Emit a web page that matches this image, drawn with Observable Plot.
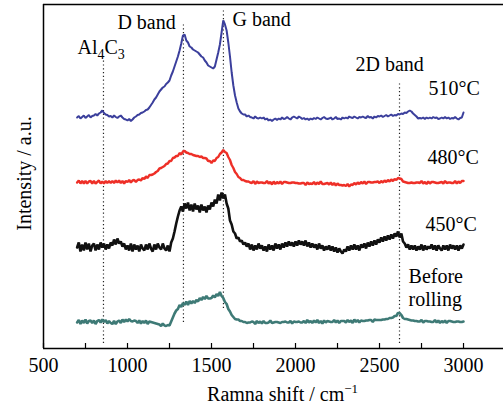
<!DOCTYPE html>
<html><head><meta charset="utf-8">
<script src="https://cdn.jsdelivr.net/npm/d3@7"></script>
<script src="https://cdn.jsdelivr.net/npm/@observablehq/plot@0.6"></script>
<style>body{margin:0;background:#fff}</style>
</head><body><div id="chart"></div>
<script>
// Raman shift sampling (cm^-1)
const shiftStart = 700;
const shiftStep = 10;

const seriesNames = ["510°C", "480°C", "450°C", "Before rolling"];
// vertical offsets of the stacked spectra (a.u.)
const offsets = [231, 166, 101, 26];

const intensity510 = [
  0, 1.5, -1, 0.5, 2, -0.5, 1, 2.5, 0, 1.5,
  2, 3.5, 2, 4, 5, 7, 4.5, 3, 2.5, 1,
  1.5, 0, 2, 0.5, -0.5, 1, 2, 0, -1.5, -2,
  -3, -1.5, -3.5, -2, 0, 1, 2.5, 3, 4.5, 5,
  6, 7.5, 8, 10, 12.5, 15, 18, 20, 23, 26,
  28, 30, 31, 33.5, 35, 37, 42, 46, 51, 56,
  61, 67, 74, 82, 83, 77, 75, 71, 70, 68,
  67, 66, 65, 63, 61, 60, 57, 55, 52, 51,
  50, 49, 51, 58, 65, 73, 85, 97, 93, 87,
  75, 61, 45, 32, 22, 15, 9, 6, 4, 3,
  3, 1, 2, 0.5, 0, -1, 1, -0.5, -1, 0,
  -1, 0, -2, -1, -3, -2, -3.5, -2, -1, -2.5,
  -1, -2, 0, -1.5, -1, 0.5, -1, -2, 0, 1,
  0, -1, 1, 0, -1.5, -0.5, -2, -1, -2.5, -1,
  -2, -0.5, -1.5, 0, -1, -2, -0.5, 0.5, -1, -1.5,
  -1, 0, -2, -1, 0.5, -1.5, -1, -2, 0, -1,
  0, -1, 1, 0, -0.5, 1, 0, -1, 0.5, 0,
  1, 0, -0.5, 1.5, 0, 0.5, -1, 1, 0, 1.5,
  1, 2, 0.5, 1.5, 2.5, 1, 2, 3, 1.5, 2.5,
  2, 3.5, 3, 4, 3.5, 5, 4.5, 6, 7, 6,
  4, 2.5, 1, -1, -0.5, -1, 0, -1.5, 0, -1,
  0, -1, 0.5, -0.5, 0, -1.5, -1, 0, -1, 0.5,
  -1, 0, -1.5, -0.5, -1, 0.5, -1, -2, -0.5, 0,
  5
];

const intensity480 = [
  0, 2, -1, 1.5, -1, 1.5, -1, 1, 1.5, -1,
  1.5, -1, 0.5, 2, -1, 1, -1, 1.5, -0.5, 1.5,
  -0.5, 1.5, -0.5, 2, 0, 2, -0.5, 1.5, -1, 1.5,
  0.5, 2.5, 0, 2, 2.5, 0.5, 2.5, 3, 2, 4.5,
  3.5, 6, 4.5, 7.5, 7.5, 8, 9, 10.5, 11.5, 14,
  14.5, 15.5, 16.5, 18.5, 19, 21.5, 21.5, 24.5, 25, 26.5,
  26.5, 29.5, 28, 31, 31.5, 30, 29.5, 28.5, 28.5, 27.5,
  27, 26.5, 26.5, 25.5, 26, 24.5, 24.5, 24, 21.5, 21.5,
  19.5, 22, 21.5, 24.5, 25.5, 28.5, 30, 32.5, 30.5, 29.5,
  25.5, 22.5, 17.5, 14.5, 10.5, 8.5, 5.5, 4.5, 2.5, 2.5,
  1.5, 1, 1, 0, -0.5, 1.5, -1.5, 1, -0.5, 0,
  0, -0.5, -0.5, 1.5, -1, 0.5, -2, 1, -1.5, 0.5,
  -1, 1, -1.5, 0.5, 0.5, 0, -0.5, -0.5, 0, 0,
  -0.5, -0.5, -1, -1, -0.5, -0.5, -2.5, 0, -1.5, -1,
  -1.5, 0.5, -2, 0, -1.5, 1, -1.5, -1.5, -1, -0.5,
  -2, 0, -2.5, -0.5, -3, -1, -2.5, -2.5, -3, -2.5,
  -3.5, -1.5, -4, -2, -2.5, -0.5, -2, 0, -1.5, 0.5,
  -1, 1, -1.5, 0.5, 0.5, 0, 0, 0.5, 0.5, 1,
  -0.5, 1.5, 0, 2, 0.5, 2.5, 1, 3, 1.5, 3.5,
  2.5, 4.5, 4, 3.5, 1, 0.5, 0, -0.5, -0.5, 0,
  -0.5, -0.5, 0, 0, -0.5, 1.5, -1, 0.5, -1.5, 1,
  -1, 0.5, 0.5, 0, -0.5, -0.5, 0, 0.5, -1, 1.5,
  -0.5, 0, 0, -0.5, -0.5, 1.5, -1, 1, -0.5, 1.5,
  1.5
];

const intensity450 = [
  0, 5, -4, 3, -3, 5, -2, 4, -4, 2,
  4, -3, 3, -2, 5, 0, 4, -2, 3, -1,
  5, 2, 8, 3, 9, 4, 6, 1, 4, -2,
  2, -3, 4, -4, 3, -2, 2, -4, 3, -1,
  -3, 3, -2, 4, -1, -4, 3, -2, 4, 0,
  -2, 4, -1, -3, 2, -4, 5, 9, 16, 24,
  31, 37, 41, 36, 44, 39, 45, 37, 43, 36,
  44, 38, 42, 35, 43, 37, 41, 35, 42, 38,
  45, 41, 48, 44, 53, 47, 55, 49, 53, 44,
  39, 27, 23, 16, 14, 9, 10, 6, 7, 3,
  5, 1, 4, -2, 3, -3, 2, -2, 4, -1,
  2, -3, 1, -4, 3, -2, 2, -3, 4, -1,
  3, -2, 4, 0, 5, 1, 6, 2, 5, 1,
  6, 2, 7, 3, 6, 2, 7, 1, 5, 0,
  4, 0, 3, -2, 4, -1, 2, -3, 1, -2,
  2, -3, 1, -4, 0, -5, -1, -4, -6, -2,
  -4, 1, -3, 2, -2, 3, -2, 2, -3, 3,
  0, 4, -1, 5, 1, 6, 2, 7, 3, 8,
  5, 10, 6, 11, 7, 12, 8, 13, 9, 14,
  11, 16, 10, 14, 6, 4, 0, 3, -2, 2,
  -2, 2, -3, 1, -2, 3, -3, 2, -2, 1,
  -1, 3, -2, 2, -3, 2, -1, -3, 2, -2,
  2, -3, 3, -1, 2, -2, 2, -3, 2, -1,
  3
];

const intensityBefore = [
  0, 2.5, -1.5, 2, -0.5, 3, -1, 1.5, 2, -0.5,
  2, -1.5, 1.5, 2.5, 0, 3, 0.5, 2.5, -1, 1.5,
  -0.5, -1.5, 1.5, -1.5, 1, 2, -0.5, 3, 0.5, 3,
  1, 3.5, 1.5, 1, 2, 1.5, -0.5, 2, -1, 1.5,
  -0.5, 2, -1.5, 1, 0.5, 0, -0.5, -1, -1.5, -2,
  -3.5, -1, -3, -3.5, -2.5, -3, 1, 5, 9, 12,
  13.5, 17.5, 15.5, 19.5, 17.5, 21, 17.5, 21.5, 19, 21.5,
  19.5, 22.5, 21, 24.5, 22.5, 25.5, 23.5, 26.5, 24, 24,
  24.5, 27, 25, 28.5, 26.5, 30.5, 26.5, 24.5, 20.5, 18.5,
  13.5, 11, 7.5, 5.5, 3.5, 3, 3, 1.5, 1.5, 0.5,
  0.5, -0.5, 0, 0, 1, 0.5, -1.5, 1.5, -0.5, 1,
  -1, 1.5, -0.5, -0.5, 0, 2, -0.5, 0, 0.5, 0.5,
  0, -0.5, 0.5, 0.5, 1, 0, 0, 1.5, -1, 1,
  0.5, 0.5, 1, 0, 0, 1.5, -0.5, 2.5, 0, 1.5,
  -0.5, 2, 0, 2.5, -0.5, 1.5, -1, 2, 0, 1.5,
  1, 0.5, 0.5, 2.5, 0, 2, -0.5, 1.5, 1.5, 1.5,
  0, 2.5, 0.5, 2, -0.5, 3, 0.5, 2.5, 0, 2,
  1.5, 1.5, 2, 2, 2.5, 2.5, 0.5, 3, 2.5, 2.5,
  2.5, 2.5, 3, 3, 3.5, 3.5, 4.5, 4.5, 5, 6.5,
  6.5, 9.5, 9.5, 7.5, 4.5, 3.5, 3.5, 3, 2.5, 2,
  2, 1.5, 1.5, 1, 1, 2.5, 0, 1.5, 1.5, 1,
  1, 0.5, 0.5, 2.5, 0, 2, -0.5, 1.5, 0, 2,
  -0.5, 1.5, 1.5, 1, 0.5, 0.5, 1, 1, 0.5, 0.5,
  1
];

const seriesValues = [intensity510, intensity480, intensity450, intensityBefore];

// band markers (cm^-1)
const bandPositions = [857, 1333, 1571, 2619];
const bandNames = ["Al4C3", "D band", "G band", "2D band"];
const seriesLabels = ["510°C", "480°C", "450°C", "Before\nrolling"];

const majorTicks = [500, 1000, 1500, 2000, 2500, 3000];
const minorTicks = [750, 1250, 1750, 2250, 2750];

const xTitle = "Ramna shift / cm−1";
const yTitle = "Intensity / a.u.";

// ---- layout and style (not data) ----
const seriesColors = ["#3b3f9c", "#ee2f27", "#111111", "#3e7a76"];
const seriesWidths = [2, 2.4, 2.6, 2.6];
const bandSpan = [[5, 288], [26, 325], [40, 338], [5, 265]];
const bandLabelPos = [[702, 295], [940, 320], [1625, 323], [2357, 278]];
const seriesLabelPos = [[2792, 254], [2786, 185], [2774, 118], [2673, 43]];

const data = [];
seriesNames.forEach((s, k) => {
  seriesValues[k].forEach((v, i) => {
    data.push({shift: shiftStart + i * shiftStep, intensity: offsets[k] + v, series: s});
  });
});

const plot = Plot.plot({
  width: 503,
  height: 405,
  marginLeft: 43,
  marginRight: 0,
  marginTop: 4,
  marginBottom: 57,
  style: {fontFamily: '"Liberation Serif", "Times New Roman", serif', fontSize: "20px", color: "#000", background: "#fff", overflow: "visible"},
  x: {domain: [500, 3238]},
  y: {domain: [0, 344], axis: null},
  marks: [
    Plot.ruleX(bandPositions, {x: d => d, y1: (d, i) => bandSpan[i][0], y2: (d, i) => bandSpan[i][1], stroke: "#222", strokeWidth: 1.2, strokeDasharray: "1.2,2.6"}),
    ...seriesNames.map((s, k) => Plot.line(data.filter(d => d.series === s), {x: "shift", y: "intensity", stroke: seriesColors[k], strokeWidth: seriesWidths[k], strokeLinejoin: "bevel"})),
    Plot.ruleX(majorTicks.concat(minorTicks), {x: d => d, y1: 0, y2: 5, stroke: "#000", strokeWidth: 1.2}),
    Plot.axisX(majorTicks, {tickSize: 0, tickPadding: 9, tickFormat: d => String(d), label: null}),
    Plot.ruleY([0, 344], {stroke: "#000", strokeWidth: 1.5}),
    Plot.ruleX([500], {stroke: "#000", strokeWidth: 1.5}),
    Plot.text(bandNames, {x: (d, i) => bandLabelPos[i][0], y: (d, i) => bandLabelPos[i][1], text: d => d, textAnchor: "start", lineAnchor: "bottom", fill: "#000"}),
    Plot.text(seriesLabels, {x: (d, i) => seriesLabelPos[i][0], y: (d, i) => seriesLabelPos[i][1], text: d => d, textAnchor: "start", lineAnchor: "bottom", lineHeight: 1.15, fill: "#000"}),
    Plot.text([xTitle], {x: 1923, y: 0, dy: 52, text: d => d, textAnchor: "middle", lineAnchor: "bottom", fill: "#000"}),
    Plot.text([yTitle], {frameAnchor: "left", y: 175, dx: -13, rotate: -90, text: d => d, textAnchor: "middle", lineAnchor: "bottom", fill: "#000"})
  ]
});

// sub/superscripts
d3.select(plot).selectAll("text").each(function () {
  const t = this.textContent;
  const sel = d3.select(this);
  if (t === "Al4C3") {
    sel.text(null);
    sel.append("tspan").text("Al");
    sel.append("tspan").attr("dy", 5).attr("font-size", 14).text("4");
    sel.append("tspan").attr("dy", -5).text("C");
    sel.append("tspan").attr("dy", 5).attr("font-size", 14).text("3");
  } else if (t === xTitle) {
    sel.text(null);
    sel.append("tspan").text("Ramna shift / cm");
    sel.append("tspan").attr("dy", -8).attr("font-size", 13).text("−1");
  }
});

document.getElementById("chart").appendChild(plot);
</script>
</body></html>
